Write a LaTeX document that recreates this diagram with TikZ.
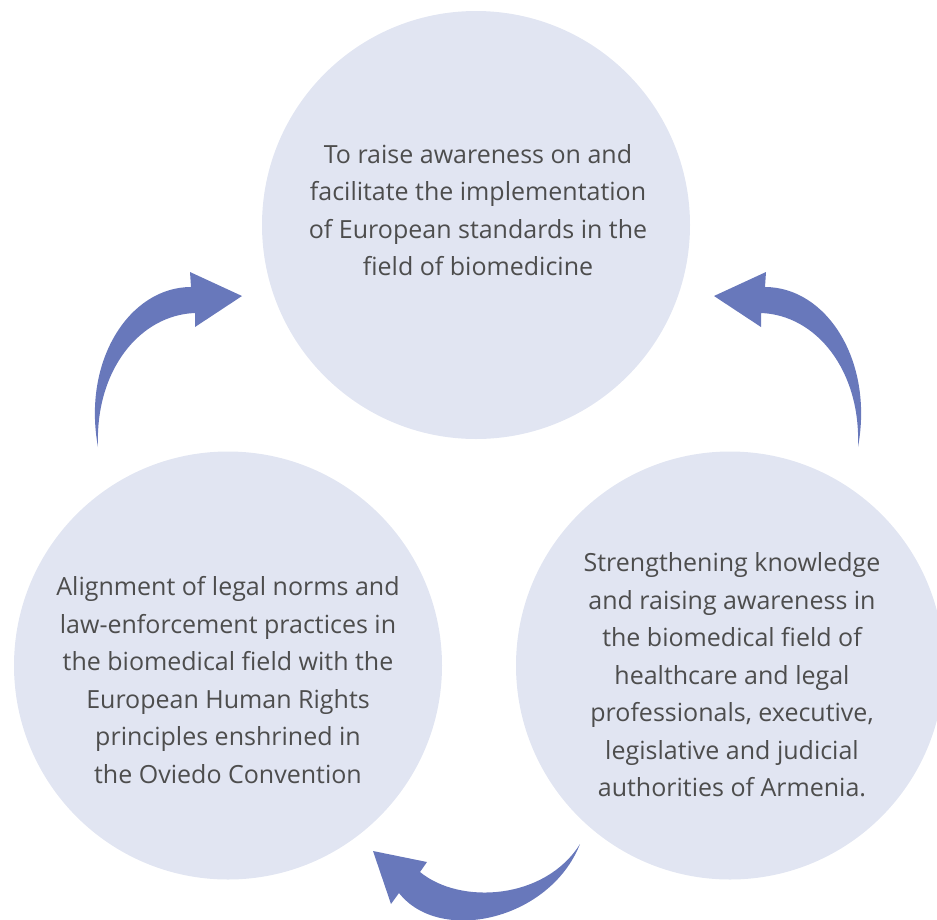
\documentclass[tikz,border=0pt]{standalone}
\usepackage{fontspec}
\setmainfont{Open Sans}
\definecolor{circfill}{RGB}{225,229,242}
\definecolor{arrowfill}{RGB}{104,120,187}
\definecolor{txtcol}{RGB}{77,77,77}
\begin{document}
\begin{tikzpicture}[x=1pt,y=-1pt,
  bubble/.style={circle,fill=circfill,minimum size=428pt,inner sep=0pt},
  label/.style={align=center,text=txtcol,font=\fontsize{25}{37.5}\selectfont},
  curvearrow/.style={fill=arrowfill,draw=none}]
\useasboundingbox (0,0) rectangle (937,919);
\clip (0,0) rectangle (937,919);
\node[bubble] (top) at (476,225) {};
\node[bubble] (left) at (228,665.5) {};
\node[bubble] (right) at (730,665.5) {};
\node[label] (toptext) at (478,210) {To raise awareness on and\\facilitate the implementation\\of European standards in the\\field of biomedicine};
\node[label] (lefttext) at (228,680) {Alignment of legal norms and\\law-enforcement practices in\\the biomedical field with the\\European Human Rights\\principles enshrined in\\the Oviedo Convention};
\node[label] (righttext) at (732,675) {Strengthening knowledge\\and raising awareness in\\the biomedical field of\\healthcare and legal\\professionals, executive,\\legislative and judicial\\authorities of Armenia.};
% left arrow
\fill[curvearrow] (98,447) .. controls (82,360) and (130,287) .. (191,287)
  -- (190,272) -- (242,296) -- (195,327) -- (195,313)
  .. controls (140,315) and (95,370) .. (98,447) -- cycle;
% right arrow
\fill[curvearrow] (858,447) .. controls (874,360) and (826,287) .. (765,287)
  -- (766,272) -- (714,296) -- (761,327) -- (761,313)
  .. controls (816,315) and (861,370) .. (858,447) -- cycle;
% bottom arrow
\fill[curvearrow] (580,844) .. controls (550,920) and (440,945) .. (399,893)
  -- (391,904) -- (373,851) -- (427,862) -- (420,872)
  .. controls (460,905) and (545,900) .. (580,844) -- cycle;
\end{tikzpicture}
\end{document}
